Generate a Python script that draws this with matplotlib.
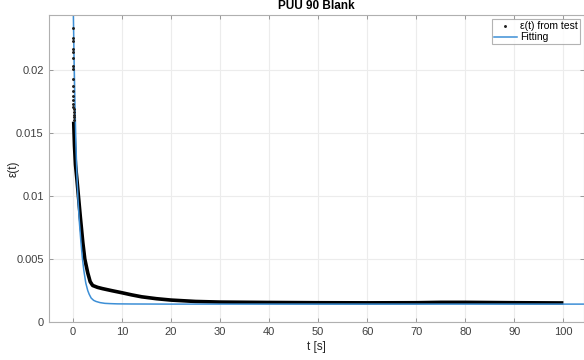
import matplotlib
matplotlib.use("Agg")
import matplotlib.pyplot as plt

plt.rcParams['font.family'] = ['Liberation Sans', 'DejaVu Sans']

# early sparse samples of the test data (near t = 0)
t_early = [0.000, 0.007, 0.014, 0.021, 0.028, 0.035, 0.042, 0.049, 0.056, 0.063,
           0.070, 0.077, 0.084, 0.091, 0.098, 0.105, 0.112, 0.119, 0.126, 0.133]
eps_early = [0.02331, 0.02257, 0.02230, 0.02164, 0.02143, 0.02098, 0.02031, 0.02010,
             0.01925, 0.01872, 0.01832, 0.01792, 0.01766, 0.01732, 0.01708, 0.01687,
             0.01665, 0.01647, 0.01628, 0.01607]

# dense test data (drawn as a thick band)
t_test = [0.14, 0.3, 0.5, 0.8, 1.1, 1.5, 2.0, 2.4, 3.0, 3.5, 4.0, 5, 6, 8, 10, 12, 14,
          17, 20, 25, 30, 40, 50, 60, 70, 75, 80, 90, 100]
eps_test = [0.0159, 0.0140, 0.0125, 0.0113, 0.0100, 0.0083, 0.0063, 0.0050, 0.0039,
            0.0032, 0.00290, 0.00275, 0.00265, 0.00248, 0.00232, 0.00215, 0.00200,
            0.00185, 0.00174, 0.00163, 0.00158, 0.00155, 0.00153, 0.00152, 0.00153,
            0.00156, 0.00156, 0.00153, 0.00151]

# fitting curve
t_fit = [0, 0.2, 0.4, 0.6, 0.8, 1.0, 1.3, 1.6, 1.9, 2.2, 2.6, 3.0, 3.3, 3.7, 4.2, 4.7,
         5.5, 6.5, 7.5, 9, 12, 20, 40, 70, 105]
eps_fit = [0.0262, 0.0212, 0.0172, 0.0140, 0.0116, 0.0098, 0.0079, 0.0064, 0.0051,
           0.0041, 0.0031, 0.00250, 0.00220, 0.00190, 0.00172, 0.00163, 0.00154,
           0.00148, 0.00146, 0.00144, 0.00143, 0.00142, 0.00142, 0.00142, 0.00142]

x_ticks = [0, 10, 20, 30, 40, 50, 60, 70, 80, 90, 100]
y_ticks = [0, 0.005, 0.01, 0.015, 0.02]
y_ticklabels = ['0', '0.005', '0.01', '0.015', '0.02']

W, H = 584, 360
fig = plt.figure(figsize=(W / 100, H / 100), dpi=100)
ax = fig.add_axes([48.5 / W, (H - 322) / H, (W - 48.5) / W, (322 - 15) / H])

ax.plot(t_test, eps_test, color='black', lw=2.6, solid_capstyle='butt', zorder=2)
ax.plot(t_early, eps_early, linestyle='none', marker='.', ms=2.2, color='#202020',
        label='ε(t) from test', zorder=3)
ax.plot(t_fit, eps_fit, color='#3d8fd6', lw=1.1, label='Fitting', zorder=2.5)

ax.set_xlim(-5, 104.2)
ax.set_ylim(0, 0.02437)
ax.set_xticks(x_ticks)
ax.set_yticks(y_ticks)
ax.set_yticklabels(y_ticklabels)

ax.grid(True, color='#ececec', lw=0.8)
ax.set_axisbelow(True)
for s in ax.spines.values():
    s.set_color('#b0b0b0')
    s.set_linewidth(0.8)
ax.tick_params(direction='in', length=3, width=0.6, color='#8a8a8a',
               labelcolor='#404040', labelsize=8, top=True, right=True)

ax.set_xlabel('t [s]', fontsize=8.5, color='#262626', labelpad=3)
ax.set_ylabel('ε(t)', fontsize=8.5, color='#262626')
ax.yaxis.set_label_coords(-0.053, 0.5)
ax.set_title('PUU 90 Blank', fontsize=8.5, fontweight='bold', pad=4)

leg = ax.legend(loc='upper right', fontsize=7.5, frameon=True, fancybox=False,
                borderpad=0.2, handlelength=2.2, handletextpad=0.3,
                labelspacing=0.1, borderaxespad=0.4, markerscale=1.0)
leg.get_frame().set_edgecolor('#a0a0a0')
leg.get_frame().set_linewidth(0.8)

fig.savefig('out.png', dpi=100)
